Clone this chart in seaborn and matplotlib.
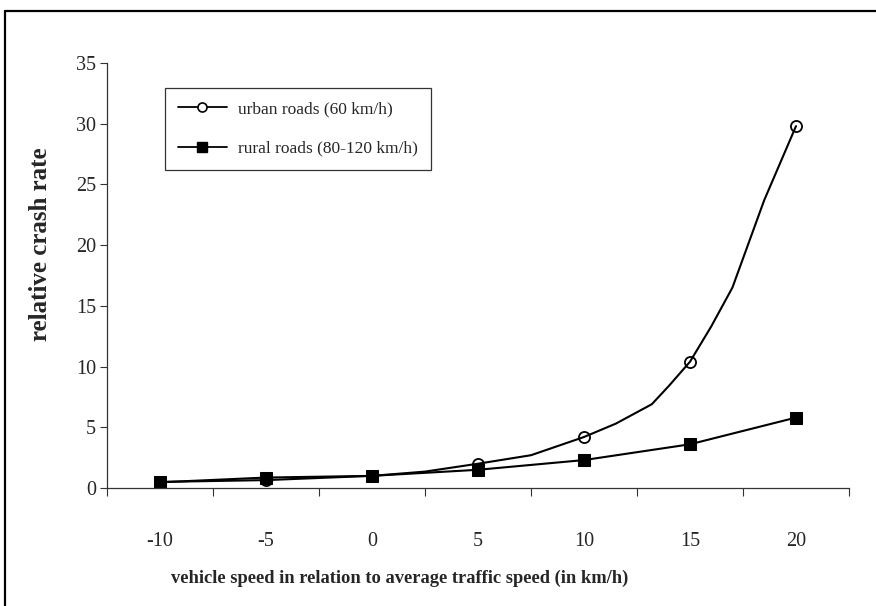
import matplotlib
matplotlib.use("Agg")
import matplotlib.pyplot as plt
from matplotlib.lines import Line2D
import seaborn as sns
import pandas as pd

# ---- data ----
speeds = [-10, -5, 0, 5, 10, 15, 20]
urban = [0.5, 0.65, 1.0, 2.0, 4.2, 10.4, 29.8]
rural = [0.47, 0.86, 1.0, 1.5, 2.3, 3.6, 5.8]
# urban curve as drawn (smoothed line)
urban_curve_x = [-10, -5, 0, 2.5, 5, 7.5, 10, 11.5, 13.2, 14, 15, 16, 17, 18.5, 20]
urban_curve_y = [0.5, 0.65, 1.0, 1.35, 2.0, 2.7, 4.2, 5.3, 6.9, 8.4, 10.4, 13.3, 16.5, 23.7, 29.8]
y_ticks = [0, 5, 10, 15, 20, 25, 30, 35]
x_labels = ["-10", "-5", "0", "5", "10", "15", "20"]
series_names = ["urban roads (60 km/h)", "rural roads (80-120 km/h)"]
x_title = "vehicle speed in relation to average traffic speed (in km/h)"
y_title = "relative crash rate"

sns.set_style("ticks")
plt.rcParams["font.family"] = ["Liberation Serif", "DejaVu Serif"]

W, H = 876, 606
fig = plt.figure(figsize=(W / 100, H / 100), dpi=100)
ax = fig.add_axes([107 / W, 1 - 488 / H, (849 - 107) / W, (488 - 63) / H])

curve_df = pd.DataFrame({"x": urban_curve_x, "y": urban_curve_y})
urban_df = pd.DataFrame({"x": speeds, "y": urban})
rural_df = pd.DataFrame({"x": speeds, "y": rural})

sns.lineplot(data=curve_df, x="x", y="y", ax=ax, color="black", lw=1.5, sort=False)
ax.plot(urban_df["x"], urban_df["y"], linestyle="none", marker="o", markersize=8,
        markerfacecolor="white", markeredgecolor="black", markeredgewidth=1.3, zorder=1.9)
sns.lineplot(data=rural_df, x="x", y="y", ax=ax, color="black", lw=1.5,
             marker="s", markersize=8, markeredgecolor="black", markerfacecolor="black")

ax.set_xlim(-12.5, 22.5)
ax.set_ylim(0, 35)
ax.set_yticks(y_ticks)
ax.set_yticklabels([str(v) for v in y_ticks])

major_x = [-12.5 + 5 * i for i in range(8)]
ax.set_xticks(major_x)
ax.set_xticklabels([""] * len(major_x))
ax.set_xticks(speeds, minor=True)
ax.set_xticklabels(x_labels, minor=True)
ax.tick_params(axis="x", which="major", length=6, width=0.8, direction="out", color="#333333")
ax.tick_params(axis="x", which="minor", length=0, pad=32, labelsize=14.5)
ax.tick_params(axis="y", which="major", length=5, width=0.8, direction="out", pad=3,
               labelsize=14.5, color="#333333")

for s in ["top", "right"]:
    ax.spines[s].set_visible(False)
for s in ["left", "bottom"]:
    ax.spines[s].set_color("#333333")
    ax.spines[s].set_linewidth(0.9)

ax.set_xlabel(x_title, fontsize=13.3, fontweight="bold")
ax.xaxis.set_label_coords(0.395, -0.192)
ax.set_ylabel(y_title, fontsize=18, fontweight="bold")
ax.yaxis.set_label_coords(-0.074, 0.573)

handles = [
    Line2D([], [], color="black", lw=1.3, marker="o", markersize=6.5,
           markerfacecolor="white", markeredgecolor="black", markeredgewidth=1.2),
    Line2D([], [], color="black", lw=1.3, marker="s", markersize=6.5,
           markerfacecolor="black", markeredgecolor="black"),
]
leg = ax.legend(handles, series_names, loc="upper left", bbox_to_anchor=(0.078, 0.941),
                borderaxespad=0, fancybox=False, frameon=True, fontsize=12.5,
                handlelength=2.8, handletextpad=0.65, labelspacing=1.35,
                borderpad=0.75, edgecolor="black")
leg.get_frame().set_linewidth(0.9)

# outer chart frame (only left and top edges visible in the crop)
fig.add_artist(Line2D([5 / W, 5 / W], [0, 1 - 11 / H], color="black", lw=1.6,
                      transform=fig.transFigure))
fig.add_artist(Line2D([5 / W, 1], [1 - 11 / H, 1 - 11 / H], color="black", lw=1.6,
                      transform=fig.transFigure))

fig.savefig("out.png", dpi=100, facecolor="white")
